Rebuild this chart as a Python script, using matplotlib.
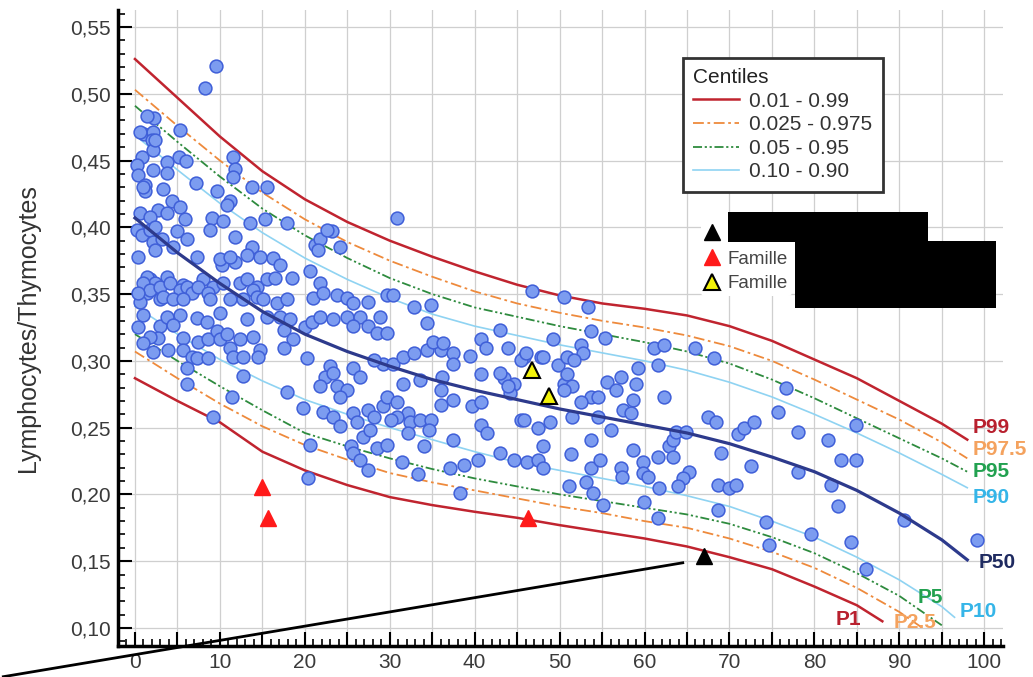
import matplotlib
matplotlib.use("Agg")
import matplotlib.pyplot as plt
from matplotlib.ticker import MultipleLocator, FuncFormatter
from matplotlib.lines import Line2D
from matplotlib.patches import Rectangle

plt.rcParams['font.family'] = ['Liberation Sans', 'DejaVu Sans']

# centile curves (age -> ratio)
x_up = [0, 5, 10, 15, 20, 25, 30, 35, 40, 45, 50, 55, 60, 65, 70, 75, 80, 85, 90, 95, 98]
p99 = [.526, .497, .468, .442, .421, .404, .390, .378, .367, .357, .349, .343, .339, .334, .326, .315, .301, .287, .270, .253, .241]
p975 = [.503, .476, .450, .426, .406, .389, .375, .363, .352, .343, .336, .330, .325, .319, .311, .300, .286, .271, .256, .239, .227]
p95 = [.491, .464, .438, .414, .394, .377, .362, .350, .340, .333, .326, .320, .314, .307, .298, .286, .272, .257, .242, .227, .217]
p90 = [.469, .443, .418, .396, .377, .361, .347, .335, .326, .319, .312, .306, .300, .293, .284, .273, .260, .246, .231, .215, .205]
p50 = [.407, .381, .358, .337, .320, .307, .296, .286, .278, .271, .264, .258, .252, .246, .238, .228, .217, .203, .186, .166, .151]

x_p10 = [0, 5, 10, 15, 20, 25, 30, 35, 40, 45, 50, 55, 60, 65, 70, 75, 80, 85, 90, 95, 96.5]
p10 = [.341, .320, .301, .285, .271, .260, .250, .241, .232, .224, .218, .212, .206, .199, .191, .180, .168, .153, .136, .116, .108]
x_p5 = [0, 5, 10, 15, 20, 25, 30, 35, 40, 45, 50, 55, 60, 65, 70, 75, 80, 85, 90, 95]
p5 = [.320, .300, .281, .263, .246, .236, .227, .219, .212, .206, .200, .195, .190, .185, .178, .168, .156, .141, .124, .102]
x_p25 = [0, 5, 10, 15, 20, 25, 30, 35, 40, 45, 50, 55, 60, 65, 70, 75, 80, 85, 90, 92.5]
p25 = [.307, .287, .268, .251, .237, .226, .216, .209, .203, .197, .191, .186, .180, .175, .167, .157, .145, .130, .112, .101]
x_p1 = [0, 5, 10, 15, 20, 25, 30, 35, 40, 45, 50, 55, 60, 65, 70, 75, 80, 85, 88]
p1 = [.287, .270, .254, .232, .218, .207, .198, .192, .187, .1825, .177, .172, .167, .161, .153, .144, .131, .117, .105]

# individual subjects (age, ratio)
sujets = [
    (9.5, .521), (8.3, .504), (2.2, .482), (5.3, .473), (1.1, .470), (2.1, .471), (2.0, .465), (0.8, .453),
    (2.1, .458), (5.2, .453), (6.0, .450), (3.8, .449), (3.8, .441), (0.2, .447), (0.4, .439), (2.1, .443),
    (1.2, .432), (1.2, .427), (3.3, .429), (4.4, .420), (5.3, .415), (7.2, .433), (9.7, .427), (11.6, .453),
    (11.8, .444), (11.6, .438), (13.8, .430), (15.6, .430), (11.2, .420), (10.8, .417), (2.7, .413), (3.8, .411),
    (5.9, .406), (9.1, .407), (8.8, .398), (10.4, .405), (13.6, .403), (15.3, .406), (17.9, .403), (30.9, .407),
    (0.2, .398), (0.8, .394), (1.8, .398), (2.1, .389), (3.2, .391), (2.4, .383), (0.4, .378), (5.0, .397),
    (4.5, .385), (6.1, .391), (11.8, .393), (7.3, .378), (13.8, .385), (14.7, .378), (16.2, .377), (17.1, .372),
    (20.6, .367), (21.8, .358), (21.2, .387), (21.8, .391), (23.2, .397), (24.2, .385), (18.5, .362), (1.8, .361),
    (3.8, .363), (5.7, .357), (8.0, .361), (9.2, .355), (10.4, .358), (12.4, .358), (13.2, .361), (14.4, .355),
    (15.6, .361), (11.8, .374), (10.3, .372), (23.8, .349), (29.7, .349), (30.4, .349), (22.6, .398),
    (1.4, .483), (0.6, .471), (2.4, .465), (0.9, .430), (0.6, .411), (1.8, .408), (2.4, .400), (1.4, .363),
    (2.4, .358), (1.4, .351), (0.6, .344), (2.9, .346),
    (10.0, .376), (11.2, .378), (13.2, .379), (21.6, .383),
    (0.9, .358), (1.8, .353), (2.9, .355), (4.1, .358), (5.3, .353), (6.1, .355), (6.7, .351), (7.4, .355),
    (8.6, .351), (3.3, .348), (4.5, .346), (5.7, .346), (0.4, .351), (8.8, .346), (13.9, .353), (16.5, .362),
    (11.2, .346), (12.7, .346), (14.4, .348), (15.1, .346), (16.7, .343), (17.9, .346), (10.0, .336),
    (21.0, .347), (22.2, .351), (25.0, .347), (25.7, .343), (27.4, .344), (32.8, .340), (34.8, .342), (34.4, .328),
    (20.0, .325), (20.9, .329), (21.8, .333), (23.3, .331), (25.0, .333), (26.5, .333), (25.7, .326), (27.4, .326),
    (28.5, .321), (29.7, .321), (28.9, .333),
    (17.1, .333), (18.3, .331), (17.5, .323), (18.6, .316), (17.5, .310), (20.3, .302), (23.0, .296), (22.4, .288),
    (23.3, .291), (21.8, .281), (23.8, .281), (25.0, .278), (24.2, .273), (25.7, .295), (26.5, .288), (29.2, .298),
    (30.4, .298), (28.1, .301), (31.6, .303), (32.8, .306), (34.4, .308), (36.0, .308), (35.1, .314), (36.3, .313),
    (37.5, .306), (37.5, .298), (39.5, .304), (40.7, .316), (41.3, .310), (43.9, .310), (43.0, .323), (45.8, .303),
    (47.8, .303), (49.8, .297), (50.9, .303),
    (31.6, .283), (33.6, .286), (36.2, .288), (36.0, .278), (40.7, .290), (43.4, .287), (44.6, .283), (44.2, .276),
    (17.9, .277), (19.8, .265), (22.2, .262), (23.3, .258), (24.2, .251), (25.7, .261), (27.4, .263), (28.1, .258),
    (29.2, .266), (29.7, .273), (30.9, .269), (32.1, .261), (32.4, .254), (30.9, .258), (30.1, .256), (32.1, .246),
    (33.6, .256), (34.8, .256), (34.6, .248), (36.0, .267), (37.5, .271), (37.5, .241), (39.7, .266), (40.7, .269),
    (40.7, .252), (41.5, .246), (43.0, .231), (44.6, .226), (46.2, .224), (47.4, .226), (48.1, .220), (48.1, .236),
    (47.4, .250), (48.9, .254), (45.4, .256), (50.5, .283),
    (25.4, .236), (25.7, .231), (26.5, .226), (27.4, .218), (28.5, .235), (29.7, .237), (26.9, .243), (27.7, .248),
    (26.2, .254), (31.5, .224), (33.3, .215), (34.0, .236), (37.1, .220), (38.3, .201), (38.7, .222), (40.4, .226),
    (20.6, .237), (20.4, .212),
    (0.4, .325), (2.9, .326), (2.7, .317), (2.1, .307), (3.9, .308), (5.7, .317), (5.7, .308), (6.7, .303),
    (6.1, .295), (7.3, .302), (8.6, .302), (7.4, .314), (8.6, .316), (9.7, .322), (10.0, .316), (11.2, .310),
    (11.6, .303), (12.7, .303), (10.8, .320), (12.4, .316), (13.9, .318), (14.7, .308), (14.5, .303), (12.7, .289),
    (11.4, .273), (6.1, .283), (9.2, .258), (15.6, .333), (13.2, .331), (7.3, .332), (8.5, .329), (5.3, .334),
    (3.8, .333), (4.5, .327), (0.9, .334), (1.8, .318), (0.9, .313),
    (46.8, .352), (50.5, .348), (53.4, .340), (53.7, .322), (55.4, .317), (49.2, .316), (52.5, .312), (52.8, .306),
    (51.7, .301), (50.9, .290), (48.1, .303), (45.4, .301), (46.0, .306),
    (61.1, .310), (62.3, .312), (66.0, .310), (68.2, .302), (61.6, .297),
    (59.2, .295), (57.2, .288), (55.6, .284), (56.6, .278), (59.0, .283), (58.7, .271), (57.5, .263), (58.4, .261),
    (62.3, .273), (53.7, .273), (54.5, .273), (52.5, .269), (51.5, .281), (51.5, .258), (50.5, .278), (45.8, .256),
    (53.7, .241), (54.5, .258), (56.0, .248), (51.3, .230), (53.7, .220), (54.8, .226), (57.2, .220), (57.4, .213),
    (58.7, .233), (59.8, .224), (59.8, .216), (61.6, .228), (62.9, .236), (63.4, .241), (63.7, .247), (64.9, .247),
    (65.2, .217), (64.5, .212), (63.4, .228), (63.9, .206), (61.7, .205), (60.4, .213), (51.1, .206), (53.1, .209),
    (53.9, .201), (55.1, .192), (59.9, .194), (61.6, .182), (68.6, .207), (69.9, .205), (70.8, .207), (68.6, .188),
    (74.3, .179), (74.6, .162), (79.6, .170), (84.3, .164), (86.1, .144), (90.6, .181), (99.1, .166),
    (69.0, .231), (72.5, .221), (78.1, .217), (82.0, .207), (82.8, .191), (83.1, .226), (84.9, .226), (81.6, .241),
    (78.1, .247), (75.7, .262), (84.9, .252), (71.0, .245), (71.7, .250), (72.9, .254), (67.5, .258), (68.4, .254),
    (76.7, .280), (43.0, .291), (43.9, .281),
]
sx = [p[0] for p in sujets]
sy = [p[1] for p in sujets]

# family members
rouge_x = [14.9, 15.7, 46.3]
rouge_y = [0.2057, 0.1825, 0.182]
noir_x = [67.0]
noir_y = [0.154]
jaune_x = [46.8, 48.7]
jaune_y = [0.293, 0.274]

c_red = '#c0242f'
c_orange = '#ee8a3c'
c_green = '#2e8b3e'
c_blue = '#8fd3f2'
c_navy = '#2d3a8c'
ls_o = (0, (6, 2, 1.5, 2))
ls_g = (0, (5, 1.5, 1.2, 1.5, 1.2, 1.5))

fig = plt.figure(figsize=(10.33, 6.77), dpi=100)
ax = fig.add_axes([0.1142, 0.0458, 0.8567, 0.9394])
ax.set_xlim(-2.0, 102.2)
ax.set_ylim(0.0865, 0.5627)

ax.plot(x_up, p99, color=c_red, lw=1.8, zorder=2)
ax.plot(x_up, p975, color=c_orange, lw=1.3, ls=ls_o, zorder=2)
ax.plot(x_up, p95, color=c_green, lw=1.3, ls=ls_g, zorder=2)
ax.plot(x_up, p90, color=c_blue, lw=1.2, zorder=2)
ax.plot(x_p10, p10, color=c_blue, lw=1.2, zorder=2)
ax.plot(x_p5, p5, color=c_green, lw=1.3, ls=ls_g, zorder=2)
ax.plot(x_p25, p25, color=c_orange, lw=1.3, ls=ls_o, zorder=2)
ax.plot(x_p1, p1, color=c_red, lw=1.8, zorder=2)

ax.scatter(sx, sy, s=85, facecolor='#7c9cf0', edgecolor='#3f5fd8', linewidth=1.1, zorder=3)
ax.plot(x_up, p50, color=c_navy, lw=2.3, zorder=4)

ax.plot(rouge_x, rouge_y, ls='none', marker='^', ms=11, color='#ff1a1a', zorder=5)
ax.plot(noir_x, noir_y, ls='none', marker='^', ms=11, color='black', zorder=5)
ax.plot(jaune_x, jaune_y, ls='none', marker='^', ms=12, markerfacecolor='#f2f20a',
        markeredgecolor='black', markeredgewidth=1.5, zorder=5)

# curve end labels
lab_kw = dict(fontsize=15, fontweight='bold', va='center', ha='left', zorder=6)
ax.text(98.6, 0.250, 'P99', color='#b8202e', **lab_kw)
ax.text(98.6, 0.2334, 'P97.5', color='#f4a25e', **lab_kw)
ax.text(98.6, 0.217, 'P95', color='#22a150', **lab_kw)
ax.text(98.6, 0.198, 'P90', color='#35b5e8', **lab_kw)
ax.text(99.3, 0.149, 'P50', color='#1e2a60', **lab_kw)
ax.text(92.2, 0.1226, 'P5', color='#22a150', **lab_kw)
ax.text(97.1, 0.112, 'P10', color='#35b5e8', **lab_kw)
ax.text(82.5, 0.106, 'P1', color='#b8202e', **lab_kw)
ax.text(89.3, 0.104, 'P2.5', color='#f4a25e', **lab_kw)

# pointer line
ax.plot([-15.5, 64.5], [0.0635, 0.1488], color='black', lw=2, clip_on=False, zorder=6)

# axes styling
for s in ['top', 'right']:
    ax.spines[s].set_visible(False)
for s in ['left', 'bottom']:
    ax.spines[s].set_linewidth(2.5)
ax.xaxis.set_major_locator(MultipleLocator(5))
ax.xaxis.set_minor_locator(MultipleLocator(1))
ax.yaxis.set_major_locator(MultipleLocator(0.05))
ax.yaxis.set_minor_locator(MultipleLocator(0.01))
ax.xaxis.set_major_formatter(FuncFormatter(lambda v, p: f"{v:.0f}" if round(v) % 10 == 0 else ""))
ax.yaxis.set_major_formatter(FuncFormatter(lambda v, p: f"{v:.2f}".replace('.', ',')))
ax.tick_params(which='major', direction='in', length=10, width=1.5, labelsize=15,
               labelcolor='#3a3a3a', pad=5)
ax.tick_params(which='minor', direction='in', length=5, width=1.2)
ax.grid(True, which='major', color='#cfcfcf', lw=0.9)
ax.set_axisbelow(True)
ax.set_ylabel('Lymphocytes/Thymocytes', fontsize=18, color='#333333')
ax.yaxis.set_label_coords(-0.088, 0.5)

# legends
h1 = [Line2D([], [], color=c_red, lw=1.8),
      Line2D([], [], color=c_orange, lw=1.3, ls=ls_o),
      Line2D([], [], color=c_green, lw=1.3, ls=ls_g),
      Line2D([], [], color=c_blue, lw=1.2)]
leg1 = ax.legend(h1, ['0.01 - 0.99', '0.025 - 0.975', '0.05 - 0.95', '0.10 - 0.90'],
                 title='Centiles', loc='upper left', bbox_to_anchor=(0.638, 0.925),
                 borderaxespad=0, fontsize=15, title_fontsize=15, frameon=True,
                 fancybox=False, framealpha=1, edgecolor='#333333', handlelength=2.2,
                 handletextpad=0.5, labelspacing=0.22, borderpad=0.5, alignment='left')
leg1.get_frame().set_linewidth(2)
for t in leg1.get_texts():
    t.set_color('#333333')
leg1.get_title().set_color('#222222')
ax.add_artist(leg1)

h2 = [Line2D([], [], ls='none', marker='^', ms=11, color='black'),
      Line2D([], [], ls='none', marker='^', ms=11, color='#ff1a1a'),
      Line2D([], [], ls='none', marker='^', ms=12, markerfacecolor='#f2f20a',
             markeredgecolor='black', markeredgewidth=1.5)]
leg2 = ax.legend(h2, ['Famille', 'Famille', 'Famille'], loc='upper left',
                 bbox_to_anchor=(0.6585, 0.6665), borderaxespad=0, fontsize=13.5,
                 frameon=True, framealpha=1, edgecolor='none', handlelength=0.8,
                 handletextpad=0.45, labelspacing=0.4, borderpad=0.2)
for t in leg2.get_texts():
    t.set_color('#444444')

# masked boxes
fig.add_artist(Rectangle((0.7048, 0.6425), 0.1936, 0.0443, transform=fig.transFigure,
                         facecolor='black', edgecolor='none', zorder=10))
fig.add_artist(Rectangle((0.7696, 0.545), 0.1946, 0.099, transform=fig.transFigure,
                         facecolor='black', edgecolor='none', zorder=10))

fig.savefig('out.png', dpi=100)
